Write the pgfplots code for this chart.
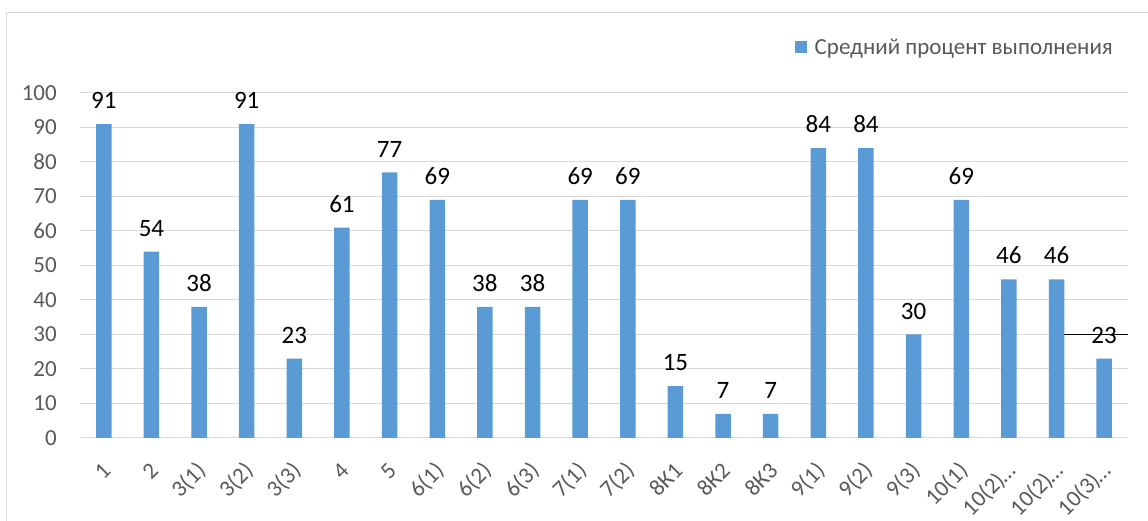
\documentclass[border=0pt]{standalone}
\usepackage{pgfplots}
\pgfplotsset{compat=1.18}
\usepackage{fontspec}
\setmainfont{Carlito}
\definecolor{barblue}{HTML}{5B9BD5}
\definecolor{gridgray}{HTML}{D9D9D9}
\definecolor{ticktext}{HTML}{595959}

\begin{document}
\begin{tikzpicture}
\useasboundingbox (-80pt,-83pt) rectangle (1068pt,438pt);
\draw[gridgray, line width=1pt] (-73.5pt,-120pt) rectangle (1100pt,425.5pt);
\begin{axis}[
  scale only axis,
  width=1048pt, height=345pt,
  xmin=-0.5, xmax=21.5,
  ymin=0, ymax=100,
  clip=false,
  axis line style={draw=none},
  major tick length=0pt,
  ymajorgrids,
  major grid style={gridgray, line width=1pt},
  ytick={0,10,...,100},
  xtick={0,...,21},
  xticklabels={1,2,3(1),3(2),3(3),4,5,6(1),6(2),6(3),7(1),7(2),8К1,8К2,8К3,9(1),9(2),9(3),10(1),10(2)\kern-1pt…,10(2)\kern-1pt…,10(3)\kern-1pt…},
  /pgf/number format/assume math mode=true,
  tick label style={font=\fontsize{23}{26}\selectfont, text=ticktext},
  yticklabel style={anchor=east, inner sep=0pt, xshift=-23pt},
  xticklabel style={yshift=-29pt, xshift=3pt, rotate=45, anchor=east, inner sep=0pt},
  legend style={at={(0.9857,1.133)}, anchor=east, draw=none, fill=none,
    font=\fontsize{23}{26}\selectfont, text=ticktext, inner sep=0pt,
    nodes={inner sep=0pt},
    /tikz/every odd column/.append style={column sep=8pt}},
  legend image code/.code={\fill[barblue] (0pt,-6pt) rectangle (12pt,6pt);},
]
\addplot[ybar, bar width=15.5pt, fill=barblue, draw=none,
  nodes near coords,
  every node near coord/.append style={font=\fontsize{25}{28}\selectfont, text=black, inner sep=0pt, anchor=south, yshift=15pt}]
coordinates {
 (0,91) (1,54) (2,38) (3,91) (4,23) (5,61) (6,77) (7,69) (8,38) (9,38) (10,69)
 (11,69) (12,15) (13,7) (14,7) (15,84) (16,84) (17,30) (18,69) (19,46) (20,46) (21,23)
};
\addlegendentry{Средний процент выполнения}
\draw[black, line width=1pt] (axis cs:20.15,30) -- (axis cs:21.5,30);
\end{axis}
\end{tikzpicture}
\end{document}
